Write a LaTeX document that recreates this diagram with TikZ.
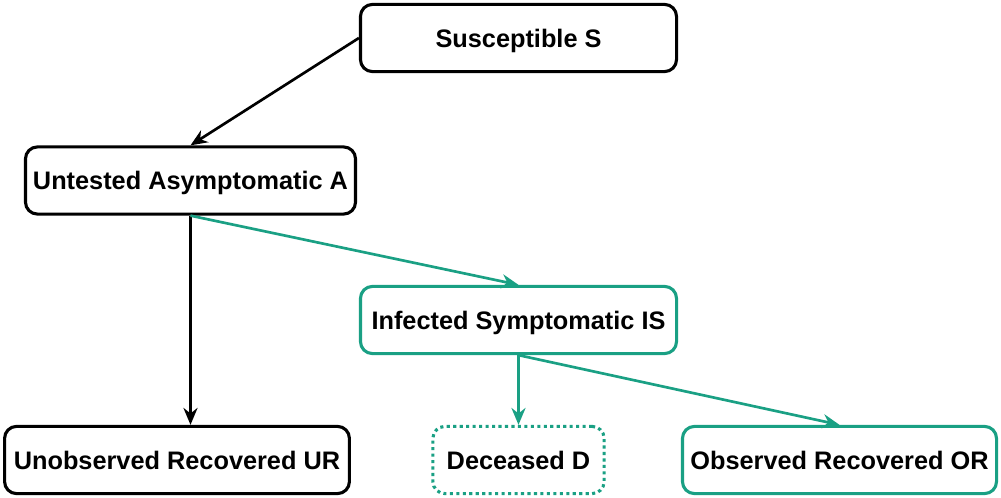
\documentclass[tikz,border=0pt]{standalone}
\usepackage{fontspec}
\setmainfont{Liberation Sans}
\usepackage{tikz}
\usepackage{xcolor}
\usetikzlibrary{arrows.meta}
\definecolor{teal}{HTML}{1AA084}
\tikzset{
  state/.style={draw=black, line width=2.2pt, rounded corners=0.3cm, fill=white,
    minimum height=1.68cm, inner sep=0pt, align=center, text depth=0pt,
    font=\fontsize{18}{21}\selectfont\bfseries},
  obsstate/.style={state, draw=teal},
  deadstate/.style={obsstate, dash pattern=on 2.2pt off 2.4pt},
  flow/.style={line width=1.9pt, -{Stealth[length=12pt,width=10pt]}},
  obsflow/.style={flow, draw=teal, color=teal}
}

\begin{document}
\begin{tikzpicture}[x=0.025cm,y=-0.025cm]
\useasboundingbox (0,0) rectangle (1001,498);
% compartments
\node[state, minimum width=7.9cm] (S) at (518.5,38) {Susceptible S};
\node[state, minimum width=8.25cm] (A) at (190.5,180.5) {Untested Asymptomatic A};
\node[obsstate, minimum width=7.9cm] (IS) at (518.5,320) {Infected Symptomatic IS};
\node[state, minimum width=8.62cm] (UR) at (177,460) {Unobserved Recovered UR};
\node[deadstate, minimum width=4.28cm] (D) at (518.5,460) {Deceased D};
\node[obsstate, minimum width=7.85cm] (OR) at (839.5,460) {Observed Recovered OR};
% transitions
\draw[flow] (S.west) -- (A.north);
\draw[flow] (A.south) -- (A.south |- UR.north);
\draw[obsflow] (A.south) -- (IS.north);
\draw[obsflow] (IS.south) -- (D.north);
\draw[obsflow] (IS.south) -- (OR.north);
\end{tikzpicture}
\end{document}
